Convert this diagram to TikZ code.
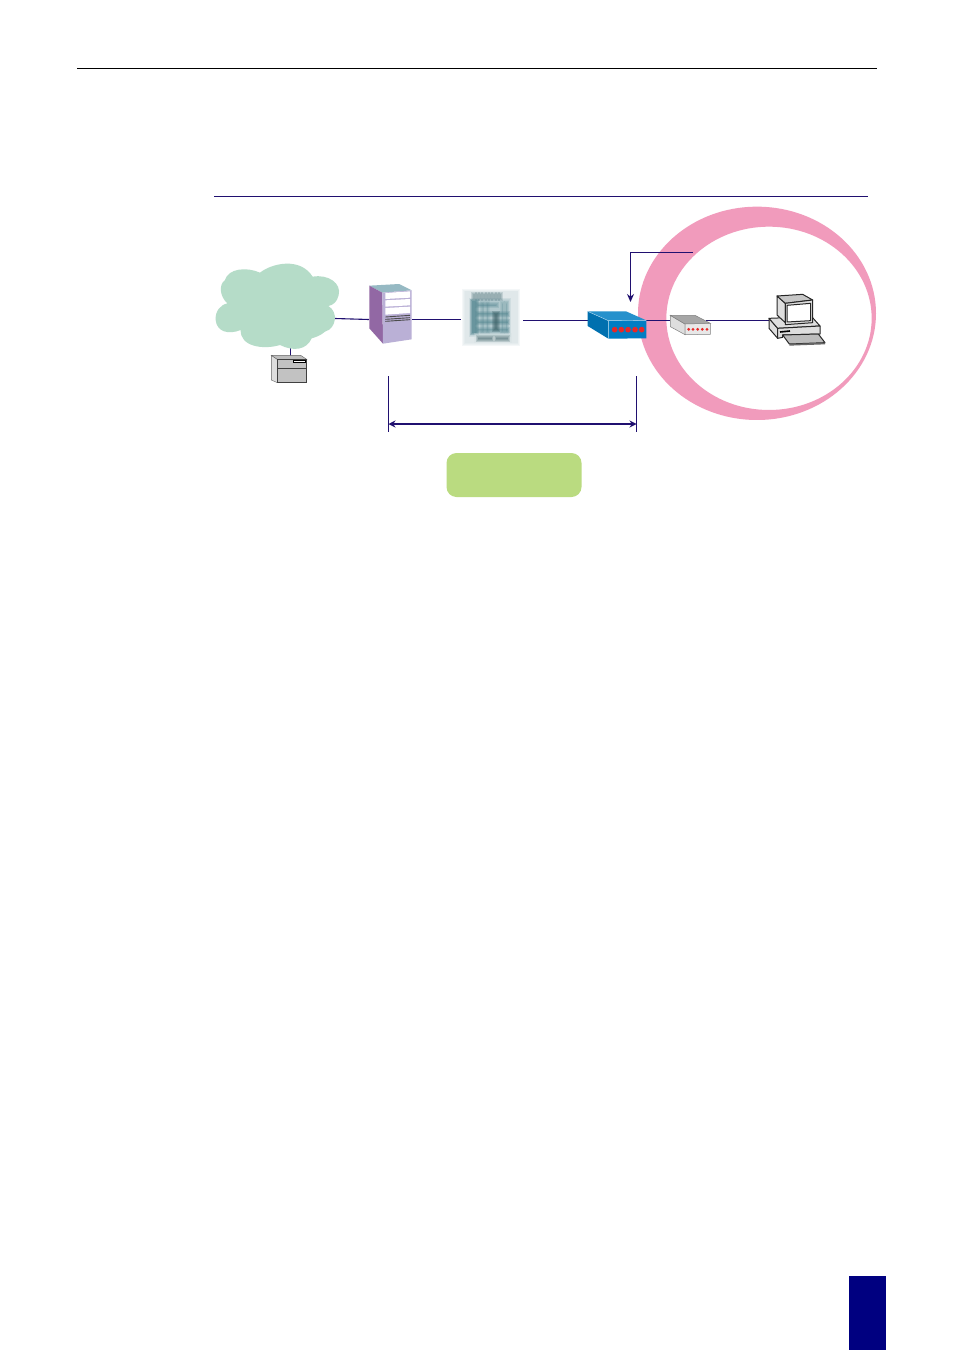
\documentclass[tikz,border=0pt]{standalone}
\usetikzlibrary{arrows.meta}
\definecolor{navyline}{RGB}{32,16,112}
\definecolor{pagenavy}{RGB}{0,0,128}
\definecolor{crescent}{RGB}{241,155,188}
\definecolor{cloudgreen}{RGB}{181,220,200}
\definecolor{boxgreen}{RGB}{186,219,128}
\definecolor{srvpurple}{RGB}{146,104,164}
\definecolor{srvlav}{RGB}{186,176,214}
\definecolor{srvtop}{RGB}{150,185,195}
\definecolor{dslblue}{RGB}{0,125,195}
\definecolor{ledred}{RGB}{230,40,40}
\definecolor{devgray}{RGB}{222,222,222}
\definecolor{swteal}{RGB}{85,135,145}
\tikzset{
  netline/.style={draw=navyline,line width=1.1pt},
  pcline/.style={draw=black!85,line width=1pt,line join=round},
}
% soft (blurred) bar: nested, slightly larger translucent copies
\newcommand{\softbar}[6]{%
  \foreach \dd in {6,3,0,-2}{\fill[#5,opacity=#6] (#1-\dd,#2-\dd) rectangle (#3+\dd,#4+\dd);}}
\begin{document}
\begin{tikzpicture}[x=1pt,y=-1pt]
\useasboundingbox (0,0) rectangle (954,1351);
\fill[white] (0,0) rectangle (954,1351);
% page furniture
\coordinate (ruleA) at (77,68); \coordinate (ruleB) at (877,68);
\draw[black,line width=.9pt] (ruleA) -- (ruleB);
\coordinate (ruleC) at (214,196.5); \coordinate (ruleD) at (868,196.5);
\draw[navyline,line width=.9pt] (ruleC) -- (ruleD);
\fill[pagenavy] (849,1276) rectangle (886,1350);

% crescent
\begin{scope}[shift={(630,200)},scale=1/3]
  \fill[crescent,even odd rule] (381,340) ellipse [x radius=357,y radius=320]
        (417,355) ellipse [x radius=308,y radius=275];
\end{scope}

% anchors
\coordinate (cloudE) at (335,318.5);
\coordinate (srvW) at (369,319.5);
\coordinate (srvE) at (412,319.5);
\coordinate (swW) at (461,319.5);
\coordinate (swE) at (523,320.5);
\coordinate (dslW) at (588,320.5);
\coordinate (dslE) at (646,320.5);
\coordinate (modW) at (670,320.5);
\coordinate (modE) at (706,320.5);
\coordinate (pcW) at (769,320.5);
\coordinate (cloudS) at (290.5,346);
\coordinate (diskN) at (290.5,356);
\draw[netline] (cloudE) -- (srvW);
\draw[netline] (srvE) -- (swW);
\draw[netline] (swE) -- (dslW);
\draw[netline] (dslE) -- (modW);
\draw[netline] (modE) -- (pcW);
\draw[netline] (cloudS) -- (diskN);

% cloud
\begin{scope}[shift={(200,250)},scale=1/3]
  \fill[cloudgreen] (47,210)
   .. controls (45,185) and (60,165) .. (82,160)
   .. controls (60,140) and (55,105) .. (75,90)
   .. controls (85,55) and (140,50) .. (180,68)
   .. controls (215,40) and (300,20) .. (338,80)
   .. controls (385,72) and (425,100) .. (416,135)
   .. controls (412,155) and (400,165) .. (385,168)
   .. controls (415,185) and (410,235) .. (375,245)
   .. controls (360,258) and (345,262) .. (335,265)
   .. controls (320,300) and (280,305) .. (240,285)
   .. controls (190,300) and (120,290) .. (122,240)
   .. controls (85,255) and (50,245) .. (47,210) -- cycle;
\end{scope}

% disk unit
\begin{scope}[shift={(200,250)},scale=1/3]
  \filldraw[fill=devgray,draw=black!60,line width=.4pt] (214,316) -- (232,328) -- (232,398) -- (214,390) -- cycle;
  \filldraw[fill=devgray!85!black,draw=black!60,line width=.4pt] (214,316) -- (302,316) -- (320,328) -- (232,328) -- cycle;
  \filldraw[fill=black!24,draw=black!75,line width=.8pt] (232,328) rectangle (320,397);
  \draw[black!75,line width=.8pt] (232,355) -- (320,355);
  \filldraw[fill=white,draw=black,line width=.6pt] (280,331) rectangle (317,338);
\end{scope}

% server
\begin{scope}[shift={(200,250)},scale=1/3]
  \fill[srvtop] (508,107) -- (597,102) -- (635,121) -- (547,128) -- cycle;
  \fill[srvpurple] (508,107) -- (547,128) -- (549,281) -- (508,235) -- cycle;
  \fill[srvlav] (547,128) -- (635,121) -- (635,268) -- (549,281) -- cycle;
  \fill[white] (556,129) -- (630,124) -- (630,143) -- (556,147) -- cycle;
  \fill[white] (556,151) -- (630,147) -- (630,166) -- (556,170) -- cycle;
  \fill[white] (556,174) -- (630,170) -- (630,189) -- (556,194) -- cycle;
  \draw[black!70,line width=.9pt] (556,201) -- (630,196);
  \draw[black!70,line width=.9pt] (556,208) -- (630,203);
  \draw[black!70,line width=.9pt] (556,214) -- (630,209);
\end{scope}

% exchange (soft, blurred picture)
\begin{scope}[shift={(455,280)},scale=1/3]
  \softbar{28}{32}{190}{192}{swteal!30}{.2}
  \softbar{48}{60}{162}{165}{swteal!60}{.22}
  \foreach \xx in {55,65,...,135}{\softbar{\xx}{42}{\xx+4}{56}{swteal!80!black}{.18}}
  \softbar{50}{62}{66}{160}{swteal}{.3}
  \softbar{66}{72}{125}{78}{swteal}{.2}
  \softbar{66}{98}{160}{104}{swteal}{.22}
  \softbar{66}{124}{160}{130}{swteal}{.22}
  \softbar{66}{146}{160}{152}{swteal}{.18}
  \foreach \xx in {82,96,140,152}{\softbar{\xx}{70}{\xx+3}{155}{swteal}{.12}}
  \softbar{118}{100}{128}{150}{swteal!70!black}{.26}
  \softbar{64}{165}{165}{184}{swteal!25}{.3}
  \softbar{68}{172}{112}{180}{swteal!70!black}{.2}
  \softbar{122}{172}{160}{180}{swteal!70!black}{.2}
\end{scope}

% blue unit
\begin{scope}[shift={(570,240)},scale=1/3]
  \fill[dslblue!90!black] (53,214) -- (115,242) -- (115,296) -- (53,258) -- cycle;
  \fill[dslblue!85!white] (53,214) -- (168,214) -- (229,241) -- (115,242) -- cycle;
  \fill[dslblue] (115,242) -- (229,241) -- (229,295) -- (115,296) -- cycle;
  \draw[white!70!dslblue,line width=.4pt] (53,214) -- (115,242) -- (229,241) (115,242) -- (115,296);
  \foreach \xx in {134,154,174,195,215}{\fill[ledred] (\xx,269) circle [radius=8.5];}
\end{scope}

% modem
\begin{scope}[shift={(570,240)},scale=1/3]
  \filldraw[fill=devgray,draw=black!50,line width=.5pt] (301,226) -- (345,252) -- (345,284) -- (301,260) -- cycle;
  \filldraw[fill=black!35,draw=black!50,line width=.5pt] (301,226) -- (375,226) -- (421,250) -- (345,252) -- cycle;
  \filldraw[fill=devgray!70!white,draw=black!50,line width=.5pt] (345,252) -- (421,250) -- (421,283) -- (345,284) -- cycle;
  \foreach \xx in {356,369,383,397,411}{\fill[ledred] (\xx,268) circle [radius=4.6];}
\end{scope}

% computer
\begin{scope}[shift={(630,200)},scale=1/3]
  \filldraw[fill=devgray,pcline] (417,355) -- (443,385) -- (443,415) -- (417,385) -- cycle;
  \filldraw[fill=devgray,pcline] (417,355) -- (545,350) -- (570,378) -- (443,385) -- cycle;
  \filldraw[fill=devgray,pcline] (443,385) -- (570,378) -- (570,402) -- (458,405) -- (458,412) -- (443,415) -- cycle;
  \draw[black,line width=1.6pt] (450,396) -- (480,393);
  \filldraw[fill=devgray,pcline] (441,288) -- (466,310) -- (466,368) -- (441,345) -- cycle;
  \filldraw[fill=black!22,pcline] (441,288) -- (518,283) -- (548,300) -- (466,310) -- cycle;
  \filldraw[fill=devgray,pcline] (466,310) -- (548,300) -- (548,368) -- (466,374) -- cycle;
  \filldraw[fill=white,pcline] (471,316) -- (542,310) -- (542,362) -- (471,366) -- cycle;
  \filldraw[fill=devgray!85!black,pcline] (458,405) -- (565,402) -- (585,428) -- (478,432) -- cycle;
  \fill[black!60] (478,432) -- (585,428) -- (585,433) -- (478,437) -- cycle;
\end{scope}

% callout arrow
\coordinate (callS) at (693,252.5);
\coordinate (callT) at (630.5,252.5);
\coordinate (callH) at (630.5,302);
\draw[netline,-{Stealth[length=8pt,width=7pt]}] (callS) -- (callT) -- (callH);

% span marker
\coordinate (tickAa) at (388.5,376); \coordinate (tickAb) at (388.5,432);
\coordinate (tickBa) at (636.5,376); \coordinate (tickBb) at (636.5,432);
\coordinate (spanA) at (388.5,424); \coordinate (spanB) at (636.5,424);
\draw[navyline,line width=.9pt] (tickAa) -- (tickAb);
\draw[navyline,line width=.9pt] (tickBa) -- (tickBb);
\draw[navyline,line width=1.5pt,{Stealth[length=7pt,width=7pt]}-{Stealth[length=7pt,width=7pt]}] (spanA) -- (spanB);

% green label box
\node (greenbox) [fill=boxgreen,rounded corners=10pt,inner sep=0pt,minimum width=135pt,minimum height=44pt] at (514,475) {};
\end{tikzpicture}
\end{document}
